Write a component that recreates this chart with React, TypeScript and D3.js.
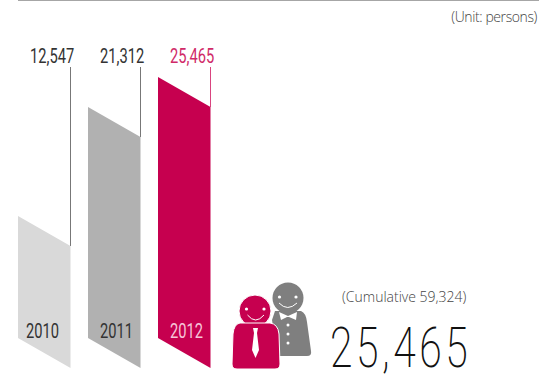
import React from "react";
import * as d3 from "d3";

const years = ["2010", "2011", "2012"];
const values = [12547, 21312, 25465];
const valueLabels = ["12,547", "21,312", "25,465"];
const barColors = ["#d9d9d9", "#b1b1b1", "#c6004f"];
const labelColors = ["#333333", "#333333", "#d02a68"];
const yearColors = ["#333333", "#333333", "#f6c4d8"];
const lineColors = ["#777777", "#777777", "#d9447f"];
const total = "25,465";
const cumulative = "(Cumulative 59,324)";
const unit = "(Unit: persons)";

const W = 539, H = 375;
const x = d3.scalePoint<string>().domain(years).range([18, 158]);
const barW = 52.5;
const slant = 30;
const y = d3.scaleLinear().domain([12547, 21312, 25465]).range([216, 107, 77]);
const baseY = 338;
const rob = "Roboto,sans-serif";
const light = "'Open Sans',sans-serif";

export default function App() {
  const line = d3.line();
  return (
    <svg width={W} height={H} viewBox={`0 0 ${W} ${H}`} style={{ position: "fixed", left: 0, top: 0, background: "#fff" }}>
      <line x1={18} x2={W} y1={0.5} y2={0.5} stroke="#a6a6a6" strokeWidth={1} />
      <text x={537} y={22} textAnchor="end" fontFamily={light} fontSize={14} fontWeight={300} letterSpacing={-0.4} fill="#444">{unit}</text>
      {years.map((yr, i) => {
        const x0 = x(yr)!;
        const x1 = x0 + barW;
        const t = y(values[i]);
        const d = line([[x0, t], [x1, t + slant], [x1, baseY + slant], [x0, baseY]])! + "Z";
        return (
          <g key={yr}>
            <line x1={x1} x2={x1} y1={67} y2={t + slant} stroke={lineColors[i]} strokeWidth={1} />
            <path d={d} fill={barColors[i]} />
            <text transform={`translate(${x0 + 12},63) scale(0.7,1)`} fontFamily={rob} fontSize={21} fontWeight={400} fill={labelColors[i]}>{valueLabels[i]}</text>
            <text transform={`translate(${x0 + (i === 0 ? 8 : 12)},338) scale(0.7,1)`} fontFamily={rob} fontSize={21} fontWeight={400} fill={yearColors[i]}>{yr}</text>
          </g>
        );
      })}
      <g>
        <circle cx={288} cy={298} r={15.5} fill="#7f7f7f" />
        <path d="M275 311 L301 311 Q306 313 307 322 L311 351 Q312 356 307 356 L278 356 L272 320 Z" fill="#7f7f7f" />
        <path d="M279 303 Q287.5 312 297 303" fill="none" stroke="#fff" strokeWidth={1} />
        <circle cx={279.5} cy={297} r={1.6} fill="#fff" />
        <circle cx={296} cy={297} r={1.6} fill="#fff" />
        <path d="M279 312 L288 316 L297 312 L296 320 L289 317 L287 317 L281 320 Z" fill="#fff" />
        <circle cx={288} cy={325} r={1.5} fill="#fff" />
        <circle cx={288} cy={334} r={1.5} fill="#fff" />
        <circle cx={288} cy={343} r={1.5} fill="#fff" />
        <circle cx={255} cy={311} r={16} fill="#c6004f" stroke="#fff" strokeWidth={1} />
        <path d="M240 323 L270 323 Q278 324 279 334 L280 364 Q280 369 275 369 L237 369 Q232 369 232 364 L233 334 Q234 324 240 323 Z" fill="#c6004f" stroke="#fff" strokeWidth={1} />
        <path d="M247.5 315 Q255.5 325 264 315" fill="none" stroke="#fff" strokeWidth={1} />
        <circle cx={246.5} cy={309} r={1.6} fill="#fff" />
        <circle cx={264} cy={309} r={1.6} fill="#fff" />
        <path d="M253 328 L258 328 L257 333 L259 350 L255.5 358 L252 350 L254 333 Z" fill="#fff" />
      </g>
      <text x={342} y={302} fontFamily={light} fontSize={14} fontWeight={300} fill="#444">{cumulative}</text>
      <text transform="translate(330,367) scale(0.73,1)" fontFamily={rob} fontSize={56} fontWeight={200} letterSpacing={4.8} fill="#111">{total}</text>
    </svg>
  );
}
